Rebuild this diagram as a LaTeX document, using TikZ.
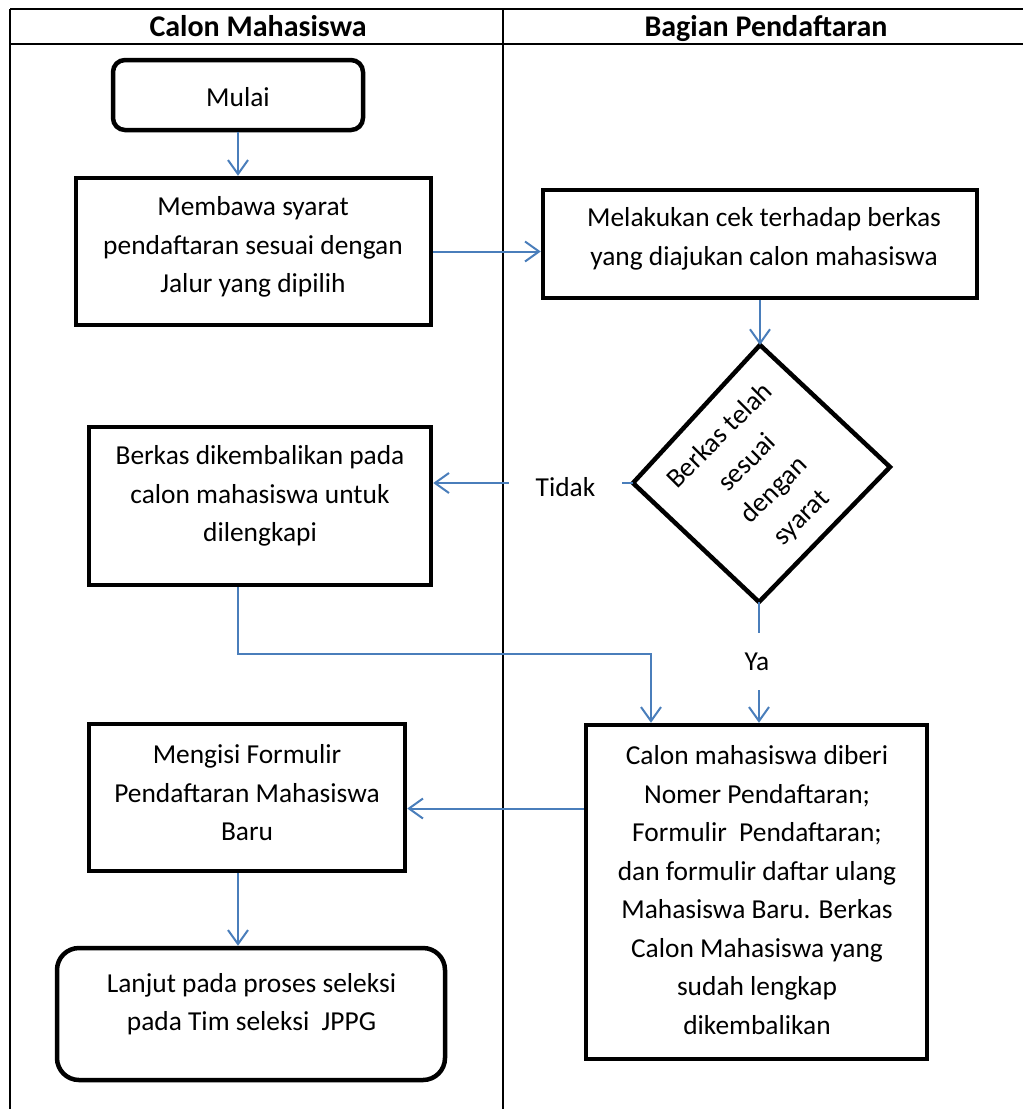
\documentclass[tikz,border=0pt]{standalone}
\usepackage{fontspec}
\setmainfont{Carlito}
\usetikzlibrary{arrows.meta,calc}
\definecolor{conn}{RGB}{74,126,187}
\tikzset{
  lane/.style={line width=1pt,black},
  box/.style={draw=black,line width=2.25pt,fill=white,inner sep=0pt},
  rbox/.style={box,rounded corners=6pt},
  txt/.style={align=center,inner sep=0pt,font=\fontsize{13.7}{19.25}\selectfont},
  head/.style={font=\fontsize{15}{18}\selectfont\bfseries,inner sep=0pt,anchor=base},
  arr/.style={draw=conn,line width=1pt,-{Straight Barb[length=7pt,width=10pt,line width=1pt]}},
  cline/.style={draw=conn,line width=1pt}
}
\begin{document}
\begin{tikzpicture}[x=0.5pt,y=-0.5pt]
\useasboundingbox (0,0) rectangle (1023,1109);
% lanes
\draw[lane] (10,9) -- (1023,9);
\draw[lane] (10,44) -- (1023,44);
\draw[lane] (10,9) -- (10,1109);
\draw[lane] (503,9) -- (503,1109);
\node[head] (h1) at (258,36.5) {Calon Mahasiswa};
\node[head] (h2) at (766,36.5) {Bagian Pendaftaran};
% boxes
\node[rbox,minimum width=125pt,minimum height=35pt] (b1) at (238,95) {};
\node[txt] (t1) at (238,97) {Mulai};
\node[box,minimum width=177.5pt,minimum height=73.5pt] (b2) at (253.5,251.5) {};
\node[txt] (t2) at (253,247) {Membawa syarat\\pendaftaran sesuai dengan\\Jalur yang dipilih};
\node[box,minimum width=217pt,minimum height=54pt] (b3) at (760,244) {};
\node[txt] (t3) at (764,239) {Melakukan cek terhadap berkas\\yang diajukan calon mahasiswa};
% diamond
\coordinate (dT) at (760,345);
\coordinate (dR) at (890,467);
\coordinate (dB) at (759,602);
\coordinate (dL) at (633,483);
\draw[line width=2.25pt,line join=miter] (dT) -- (dR) -- (dB) -- (dL) -- cycle;
\node[txt,rotate=45] (dtxt) at (761,477) {Berkas telah\\sesuai\\dengan\\syarat};
\node[box,minimum width=171pt,minimum height=79pt] (b4) at (260,506) {};
\node[txt] (t4) at (260,496) {Berkas dikembalikan pada\\calon mahasiswa untuk\\dilengkapi};
\node[box,minimum width=158pt,minimum height=73.5pt] (b5) at (247,797.5) {};
\node[txt] (t5) at (247,793) {Mengisi Formulir\\Pendaftaran Mahasiswa\\Baru};
\node[rbox,rounded corners=11pt,minimum width=194pt,minimum height=66pt] (b6) at (251,1014) {};
\node[txt] (t6) at (251.5,1004) {Lanjut pada proses seleksi\\pada Tim seleksi\ \ JPPG};
\node[box,minimum width=170.5pt,minimum height=167pt] (b7) at (756.5,892) {};
\node[txt] (t7) at (757,890) {Calon mahasiswa diberi\\Nomer Pendaftaran;\\Formulir\ \ Pendaftaran;\\dan formulir daftar ulang\\Mahasiswa Baru. Berkas\\Calon Mahasiswa yang\\sudah lengkap\\dikembalikan};
% labels
\node[txt,minimum width=56.5pt,minimum height=10pt] (tidak) at (565.5,487) {Tidak};
\node[txt,minimum width=13pt,minimum height=28.5pt] (ya) at (757,661.5) {Ya};
% connectors
\draw[arr] (b1.south) -- (b1.south |- b2.north);
\draw[arr] (b2.east) -- (b2.east -| b3.west);
\draw[arr] (b3.south) -- (dT);
\draw[cline] (dL) -- (dL -| tidak.east);
\draw[arr] (tidak.west |- dL) -- (dL -| b4.east);
\draw[cline] (dB) -- (dB |- ya.north);
\draw[arr] (dB |- ya.south) -- (dB |- b7.north);
\coordinate (bend) at (651,654);
\draw[arr] (b1.south |- b4.south) |- (bend) -- (bend |- b7.north);
\coordinate (m5) at ($(b5.east)+(0,11)$);
\draw[arr] (m5 -| b7.west) -- (m5);
\draw[arr] (b1.south |- b5.south) -- (b1.south |- b6.north);
\end{tikzpicture}
\end{document}
